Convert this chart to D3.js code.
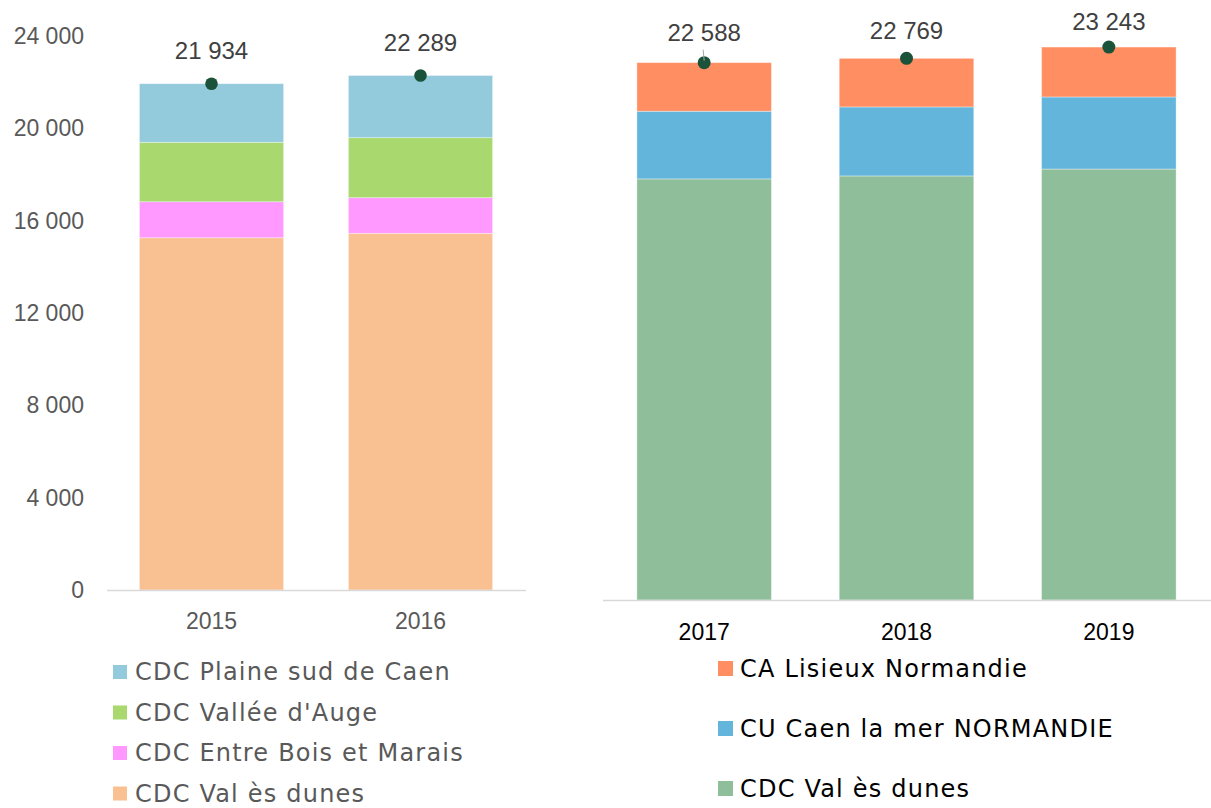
<!DOCTYPE html>
<html><head><meta charset="utf-8">
<script src="https://cdn.jsdelivr.net/npm/d3@7"></script>
<style>body{margin:0;background:#fff}svg{display:block}</style>
</head><body><svg id="c" width="1211" height="808"></svg>
<script>
// ---------- data ----------
const leftYears = ["2015", "2016"];
const leftSeries = ["CDC Val ès dunes", "CDC Entre Bois et Marais", "CDC Vallée d'Auge", "CDC Plaine sud de Caen"];
const leftValDunes = [15260, 15450];
const leftEntreBois = [1560, 1545];
const leftValleeAuge = [2575, 2600];
const leftPlaineSud = [2539, 2694];
const leftTotals = [21934, 22289];
const leftColors = ["#F9C091", "#FF99FF", "#A8D86E", "#93CBDD"];

const rightYears = ["2017", "2018", "2019"];
const rightSeries = ["CDC Val ès dunes", "CU Caen la mer NORMANDIE", "CA Lisieux Normandie"];
const rightValDunes = [17700, 17825, 18115];
const rightCaen = [2845, 2900, 3030];
const rightLisieux = [2043, 2044, 2098];
const rightTotals = [22588, 22769, 23243];
const rightColors = ["#8FBF9A", "#63B5DC", "#FF8F63"];

const yTicks = [0, 4000, 8000, 12000, 16000, 20000, 24000];

const fmt = v => d3.format(",")(v).replace(/,/g, " ");
const svg = d3.select("#c");
const FONT = "'Liberation Sans', Arial, sans-serif";
const LFONT = "'DejaVu Sans', sans-serif";

// ---------- left chart ----------
const leftRows = leftYears.map((y, i) => ({year: y,
  [leftSeries[0]]: leftValDunes[i], [leftSeries[1]]: leftEntreBois[i],
  [leftSeries[2]]: leftValleeAuge[i], [leftSeries[3]]: leftPlaineSud[i]}));
const xL = d3.scaleBand().domain(leftYears).range([107, 525]).paddingInner(0.31).paddingOuter(0.155);
const yL = d3.scaleLinear().domain([0, 24000]).range([590, 36]);
const stackL = d3.stack().keys(leftSeries)(leftRows);
const gL = svg.append("g");
gL.selectAll("g.s").data(stackL).join("g").attr("fill", (d, i) => leftColors[i])
  .selectAll("rect").data(d => d).join("rect")
  .attr("x", d => xL(d.data.year)).attr("width", xL.bandwidth())
  .attr("y", d => yL(d[1])).attr("height", d => yL(d[0]) - yL(d[1]))
  .attr("stroke", "#ffffff").attr("stroke-opacity", 0.45).attr("stroke-width", 0.8);
// y axis
const axL = d3.axisLeft(yL).tickValues(yTicks).tickSize(0).tickPadding(0).tickFormat(fmt);
const gAx = svg.append("g").attr("transform", "translate(84,0)").call(axL);
gAx.select(".domain").remove();
gAx.selectAll("text").attr("font-family", FONT).attr("font-size", 23).attr("fill", "#595959");
// baseline
svg.append("line").attr("x1", 107).attr("x2", 526).attr("y1", yL(0) + 0.5).attr("y2", yL(0) + 0.5)
  .attr("stroke", "#D9D9D9").attr("stroke-width", 1.5);
// x axis labels
const axLx = d3.axisBottom(xL).tickSize(0).tickPadding(0);
const gAxLx = svg.append("g").attr("transform", `translate(0,${yL(0) + 31})`).call(axLx);
gAxLx.select(".domain").remove();
gAxLx.selectAll("text").attr("dy", "0.35em").attr("font-family", FONT).attr("font-size", 23).attr("fill", "#595959");
// totals
gL.selectAll("circle").data(leftYears).join("circle")
  .attr("cx", d => xL(d) + xL.bandwidth() / 2).attr("cy", (d, i) => yL(leftTotals[i]))
  .attr("r", 6.3).attr("fill", "#1B533A");
gL.selectAll("text.t").data(leftYears).join("text").attr("class", "t")
  .attr("x", d => xL(d) + xL.bandwidth() / 2).attr("y", (d, i) => yL(leftTotals[i]) - 33)
  .attr("dy", "0.35em").attr("text-anchor", "middle")
  .attr("font-family", FONT).attr("font-size", 24).attr("fill", "#404040")
  .text((d, i) => fmt(leftTotals[i]));
// legend
const legL = leftSeries.slice().reverse();
const legLc = leftColors.slice().reverse();
const lg = svg.append("g").selectAll("g").data(legL).join("g")
  .attr("transform", (d, i) => `translate(113,${672 + i * 40.5})`);
lg.append("rect").attr("x", 0).attr("y", -7).attr("width", 14).attr("height", 14).attr("fill", (d, i) => legLc[i]);
lg.append("text").attr("x", 22).attr("dy", "0.34em").attr("font-family", LFONT).attr("font-size", 24)
  .attr("letter-spacing", 1.2).attr("fill", "#595959").text(d => d);

// ---------- right chart ----------
const rightRows = rightYears.map((y, i) => ({year: y,
  [rightSeries[0]]: rightValDunes[i], [rightSeries[1]]: rightCaen[i], [rightSeries[2]]: rightLisieux[i]}));
const xR = d3.scaleBand().domain(rightYears).range([603, 1210]).paddingInner(0.335).paddingOuter(0.1675);
const yR = d3.scaleLinear().domain([0, 24000]).range([600, 600 - 24000 * 0.02379]);
const stackR = d3.stack().keys(rightSeries)(rightRows);
const gR = svg.append("g");
gR.selectAll("g.s").data(stackR).join("g").attr("fill", (d, i) => rightColors[i])
  .selectAll("rect").data(d => d).join("rect")
  .attr("x", d => xR(d.data.year)).attr("width", xR.bandwidth())
  .attr("y", d => yR(d[1])).attr("height", d => yR(d[0]) - yR(d[1]))
  .attr("stroke", "#ffffff").attr("stroke-opacity", 0.45).attr("stroke-width", 0.8);
svg.append("line").attr("x1", 603).attr("x2", 1211).attr("y1", yR(0) + 0.5).attr("y2", yR(0) + 0.5)
  .attr("stroke", "#D9D9D9").attr("stroke-width", 1.5);
const axRx = d3.axisBottom(xR).tickSize(0).tickPadding(0);
const gAxRx = svg.append("g").attr("transform", `translate(0,${yR(0) + 32})`).call(axRx);
gAxRx.select(".domain").remove();
gAxRx.selectAll("text").attr("dy", "0.35em").attr("font-family", FONT).attr("font-size", 23).attr("fill", "#000");
// leader line for first label
svg.append("line").attr("x1", xR(rightYears[0]) + xR.bandwidth() / 2 - 1).attr("x2", xR(rightYears[0]) + xR.bandwidth() / 2)
  .attr("y1", yR(rightTotals[0]) - 13).attr("y2", yR(rightTotals[0]) - 2)
  .attr("stroke", "#A6A6A6").attr("stroke-width", 1);
gR.selectAll("circle").data(rightYears).join("circle")
  .attr("cx", d => xR(d) + xR.bandwidth() / 2).attr("cy", (d, i) => yR(rightTotals[i]))
  .attr("r", 6.5).attr("fill", "#1B533A");
const rOff = [30, 28, 25];
gR.selectAll("text.t").data(rightYears).join("text").attr("class", "t")
  .attr("x", d => xR(d) + xR.bandwidth() / 2).attr("y", (d, i) => yR(rightTotals[i]) - rOff[i])
  .attr("dy", "0.35em").attr("text-anchor", "middle")
  .attr("font-family", FONT).attr("font-size", 24).attr("fill", "#404040")
  .text((d, i) => fmt(rightTotals[i]));
const legR = rightSeries.slice().reverse();
const legRc = rightColors.slice().reverse();
const rg = svg.append("g").selectAll("g").data(legR).join("g")
  .attr("transform", (d, i) => `translate(718,${668 + i * 60})`);
rg.append("rect").attr("x", 0).attr("y", -7).attr("width", 15).attr("height", 15).attr("fill", (d, i) => legRc[i]);
rg.append("text").attr("x", 22).attr("dy", "0.36em").attr("font-family", LFONT).attr("font-size", 24)
  .attr("letter-spacing", 1.2).attr("fill", "#000").text(d => d);
</script></body></html>
